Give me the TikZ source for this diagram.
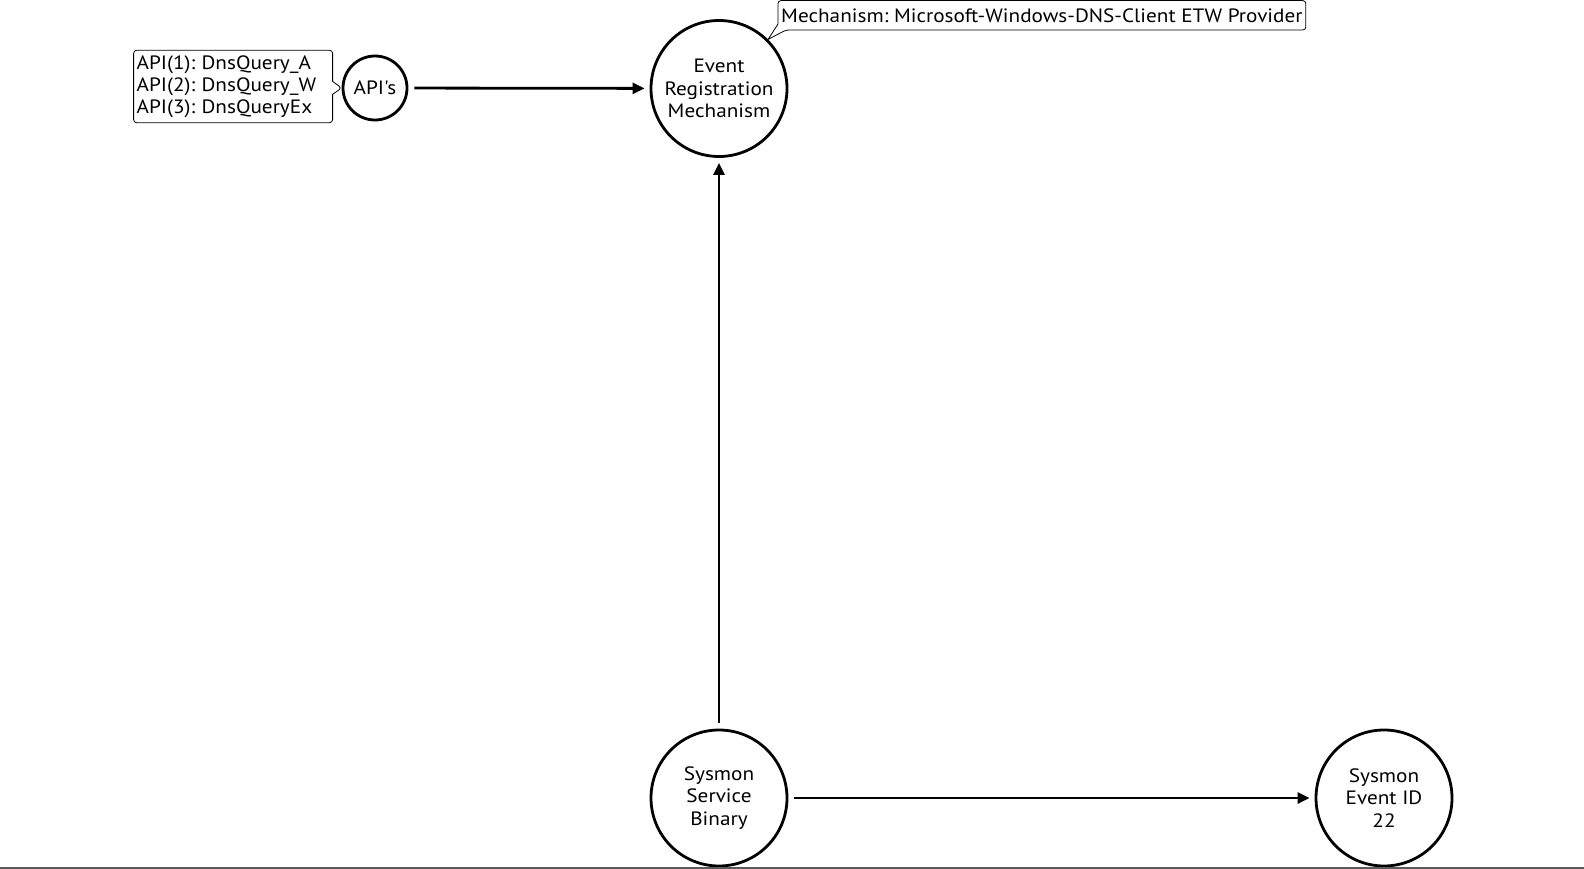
\documentclass[tikz,border=0pt]{standalone}
\usepackage{fontspec}
\setmainfont[FakeStretch=1.1,Ligatures=TeXOff]{PT Sans}
\usetikzlibrary{shapes.callouts,arrows.meta}
\begin{document}
\begin{tikzpicture}[x=1pt,y=-1pt,
  txt/.style={font=\fontsize{19.3}{22.2}\selectfont\frenchspacing},
  bignode/.style={circle,draw,line width=2.8pt,minimum size=136pt,inner sep=0pt,align=center,txt},
  smallnode/.style={circle,draw,line width=2.8pt,minimum size=64pt,inner sep=0pt,align=center,txt},
  note/.style={rectangle callout,draw,line width=0.8pt,rounded corners=3pt,inner xsep=3pt,inner ysep=5pt,callout pointer width=13pt,align=left,txt},
  noteline/.style={draw,line width=0.8pt},
  flow/.style={line width=2.8pt,-{Triangle[length=12pt,width=11pt]},shorten >=5pt,shorten <=6pt}
]
\useasboundingbox (0,0) rectangle (1584,869);
\node[bignode] (evt) at (719,88.5) {Event\\Registration\\Mechanism};
\node[smallnode] (apis) at (375,88) {API's};
\node[bignode] (bin) at (719,798) {Sysmon\\Service\\Binary};
\node[bignode] (eid) at (1384,798) {Sysmon\\Event ID\\22};
\node[note,anchor=east,text width=193pt,callout absolute pointer={(apis.west)}] (apilist) at (333,86.5)
  {API(1): DnsQuery\_A\\API(2): DnsQuery\_W\\API(3): DnsQueryEx};
\node[txt,anchor=south west,inner xsep=3pt,inner ysep=3pt,minimum height=29pt] (mech) at (778,30)
  {Mechanism: Microsoft-Windows-DNS-Client ETW Provider};
\draw[noteline,rounded corners=3pt] (mech.north) -- (mech.north east) -- (mech.south east)
  -- ([xshift=8pt]mech.south west) [sharp corners] -- (evt.45) -- ([yshift=6pt]mech.south west)
  [rounded corners=3pt] -- (mech.north west) -- cycle;
\draw[flow] (apis) -- (evt);
\draw[flow] (bin) -- (evt);
\draw[flow] (bin) -- (eid);
\draw[draw={rgb,255:red,90;green,90;blue,90},line width=2pt] (0,868) -- (1584,868);
\end{tikzpicture}
\end{document}
